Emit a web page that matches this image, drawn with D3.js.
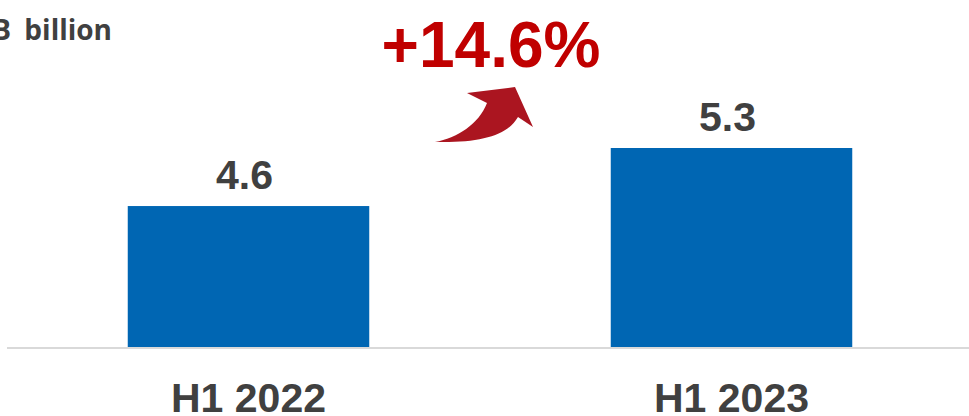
<!DOCTYPE html>
<html>
<head>
<meta charset="utf-8">
<script src="https://cdn.jsdelivr.net/npm/d3@7"></script>
<style>
  html, body { margin: 0; padding: 0; background: #ffffff; }
  svg { display: block; }
</style>
</head>
<body>
<div id="chart"></div>
<script>
  // chart data
  var categories  = ["H1 2022", "H1 2023"];
  var values      = [4.6, 5.3];
  var unitLabel   = "RMB billion";
  var growthLabel = "+14.6%";

  var width  = 969;
  var height = 416;

  var svg = d3.select("#chart").append("svg")
    .attr("width",  width)
    .attr("height", height);

  // band scale for the two periods, value axis does not start at zero
  var x = d3.scaleBand()
    .domain(categories)
    .range([7, 973])
    .paddingInner(0.5)
    .paddingOuter(0.25);

  var y = d3.scaleLinear()
    .domain([2.9, 5.3])
    .range([347, 148]);

  var fmt = d3.format(".1f");

  // bars
  svg.selectAll("rect.bar")
    .data(values)
    .enter()
    .append("rect")
    .attr("class",  "bar")
    .attr("x",      function(v, i) { return x(categories[i]); })
    .attr("y",      function(v)    { return y(v); })
    .attr("width",  x.bandwidth())
    .attr("height", function(v)    { return y(y.domain()[0]) - y(v); })
    .attr("fill",   "#0066b3");

  // baseline
  svg.append("line")
    .attr("x1", x.range()[0])
    .attr("x2", width)
    .attr("y1", y(y.domain()[0]) + 1)
    .attr("y2", y(y.domain()[0]) + 1)
    .attr("stroke", "#d9d9d9")
    .attr("stroke-width", 2);

  // value labels
  svg.selectAll("text.value")
    .data(values)
    .enter()
    .append("text")
    .attr("class", "value")
    .attr("x", function(v, i) { return x(categories[i]) + x.bandwidth() / 2 - 4; })
    .attr("y", function(v)    { return y(v) - 17; })
    .attr("text-anchor", "middle")
    .attr("font-family", "'Liberation Sans', Arial, sans-serif")
    .attr("font-weight", "bold")
    .attr("font-size", 41)
    .attr("fill", "#404040")
    .text(fmt);

  // category labels
  var xAxis = d3.axisBottom(x).tickSize(0).tickPadding(0);
  var axisG = svg.append("g")
    .attr("transform", "translate(0,383)")
    .call(xAxis);
  axisG.select(".domain").remove();
  axisG.selectAll("text")
    .attr("dy", null)
    .attr("y", 29)
    .attr("font-family", "'Liberation Sans', Arial, sans-serif")
    .attr("font-weight", "bold")
    .attr("font-size", 41)
    .attr("fill", "#404040");

  // unit label, partly cut off at the left edge
  svg.append("text")
    .attr("x", 112)
    .attr("y", 40)
    .attr("text-anchor", "end")
    .attr("font-family", "'Open Sans', 'Noto Sans', sans-serif")
    .attr("font-weight", "bold")
    .attr("font-size", 28)
    .attr("word-spacing", 6)
    .attr("fill", "#404040")
    .text(unitLabel);

  // growth label and curved arrow between the bars
  var midX = (x(categories[0]) + x(categories[1]) + x.bandwidth()) / 2;

  svg.append("text")
    .attr("x", midX + 1)
    .attr("y", 67)
    .attr("text-anchor", "middle")
    .attr("font-family", "'Liberation Sans', Arial, sans-serif")
    .attr("font-weight", "bold")
    .attr("font-size", 64)
    .attr("fill", "#c00000")
    .text(growthLabel);

  // arrow shape, drawn relative to the tail point
  var ax = midX - 55, ay = 142;
  var p = d3.path();
  p.moveTo(ax, ay);
  p.bezierCurveTo(ax + 22, ay - 4, ax + 44, ay - 18, ax + 52, ay - 39);
  p.lineTo(ax + 32, ay - 49);
  p.lineTo(ax + 80, ay - 55);
  p.lineTo(ax + 98, ay - 15);
  p.lineTo(ax + 83, ay - 25);
  p.bezierCurveTo(ax + 72, ay - 6, ax + 45, ay + 1, ax, ay);
  p.closePath();

  svg.append("path")
    .attr("d", p.toString())
    .attr("fill", "#ab1520");
</script>
</body>
</html>
